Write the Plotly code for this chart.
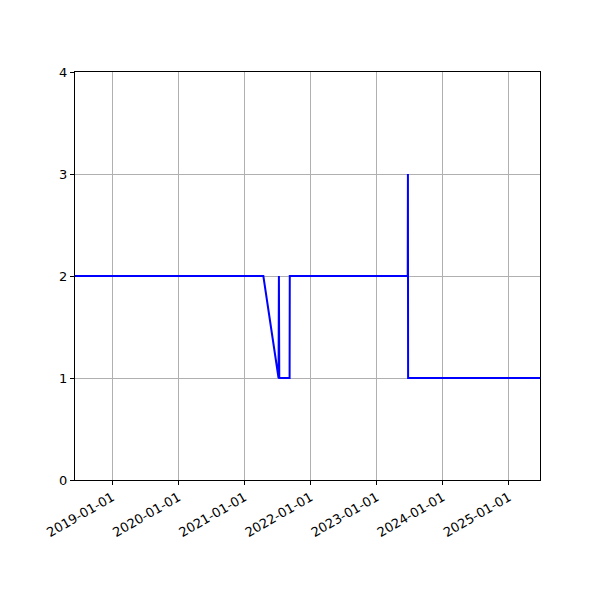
import plotly.graph_objects as go

# data
dates = [
    "2018-06-09", "2021-04-15", "2021-07-08", "2021-07-10", "2021-07-12",
    "2021-09-07", "2021-09-08", "2023-06-22", "2023-06-23", "2023-06-24",
    "2025-06-22",
]
values = [2, 2, 1, 2, 1, 1, 2, 2, 3, 1, 1]

tick_dates = ["2019-01-01", "2020-01-01", "2021-01-01", "2022-01-01",
              "2023-01-01", "2024-01-01", "2025-01-01"]
y_ticks = [0, 1, 2, 3, 4]

fig = go.Figure(go.Scatter(
    x=dates, y=values, mode="lines",
    line=dict(color="blue", width=2),
))

axis_style = dict(
    showline=True, linecolor="black", linewidth=1, mirror=True,
    ticks="outside", ticklen=4, tickwidth=1, tickcolor="black",
    showgrid=True, gridcolor="#b0b0b0", gridwidth=0.8,
    zeroline=False,
    tickfont=dict(family="DejaVu Sans", size=13, color="black"),
)

fig.update_xaxes(
    range=[dates[0], dates[-1]],
    tickvals=tick_dates, ticktext=tick_dates, tickangle=-30,
    **axis_style,
)
fig.update_yaxes(range=[0, 4], tickvals=y_ticks, **axis_style)

# page has an 8px body offset, so margins are shifted to match
fig.update_layout(
    width=600, height=600,
    margin=dict(l=67, r=68, t=64, b=128),
    plot_bgcolor="white", paper_bgcolor="white",
    showlegend=False,
)

fig.write_html("out.html")
